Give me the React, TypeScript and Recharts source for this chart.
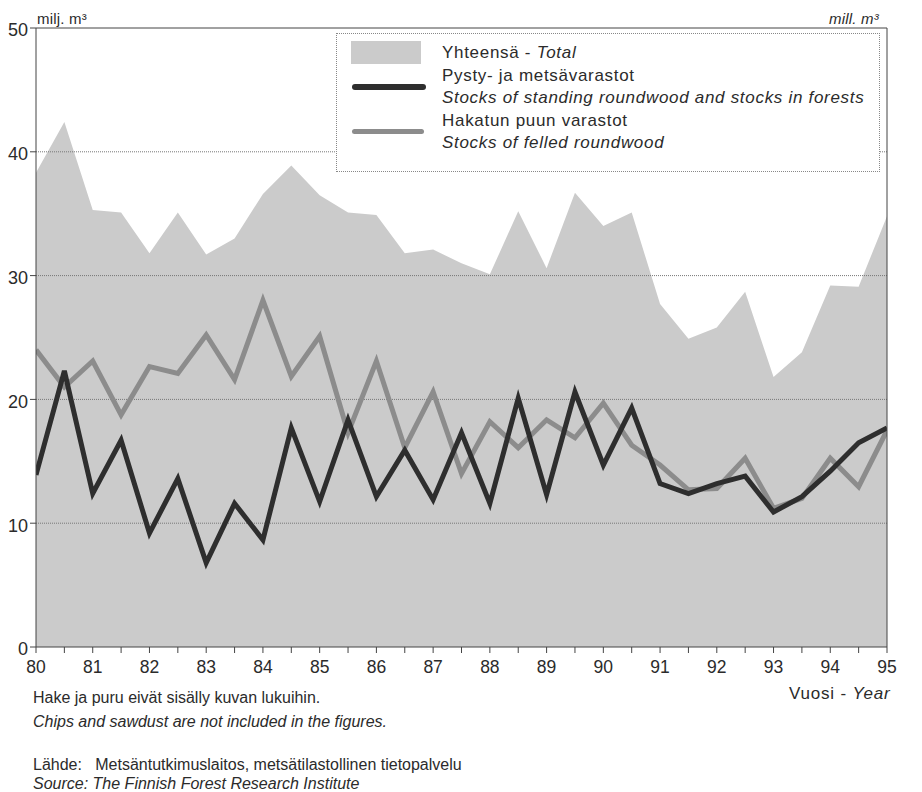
import React from 'react';
import { ComposedChart, Area, Line, XAxis, YAxis, ReferenceLine, Legend } from 'recharts';

const years = [80, 80.5, 81, 81.5, 82, 82.5, 83, 83.5, 84, 84.5, 85, 85.5, 86, 86.5, 87, 87.5, 88, 88.5, 89, 89.5, 90, 90.5, 91, 91.5, 92, 92.5, 93, 93.5, 94, 94.5, 95];
const total = [38.3, 42.4, 35.3, 35.1, 31.8, 35.1, 31.7, 33.0, 36.6, 38.9, 36.5, 35.1, 34.9, 31.8, 32.1, 31.0, 30.1, 35.2, 30.6, 36.7, 34.0, 35.1, 27.7, 24.9, 25.8, 28.7, 21.8, 23.8, 29.2, 29.1, 34.8];
const standing = [13.9, 22.3, 12.4, 16.7, 9.2, 13.6, 6.8, 11.6, 8.65, 17.7, 11.75, 18.35, 12.15, 15.9, 11.9, 17.3, 11.6, 20.1, 12.3, 20.6, 14.7, 19.3, 13.2, 12.4, 13.2, 13.8, 10.9, 12.15, 14.2, 16.5, 17.7];
const felled = [24.0, 21.0, 23.1, 18.75, 22.65, 22.1, 25.2, 21.6, 28.0, 21.85, 25.1, 17.3, 23.1, 16.1, 20.6, 14.0, 18.2, 16.1, 18.35, 16.9, 19.7, 16.3, 14.7, 12.7, 12.8, 15.25, 11.2, 12.0, 15.25, 12.95, 17.5];
const yTicks = [0, 10, 20, 30, 40, 50];
const gridValues = [10, 20, 30, 40];
const xTicks = years;

const data = years.map((y, i) => ({ year: y, total: total[i], standing: standing[i], felled: felled[i] }));

const FONT = '"Liberation Sans", Arial, Helvetica, sans-serif';
const TXT = '#2b2b2b';
const AREA_FILL = '#cbcbcb';
const DARK = '#2e2e2e';
const MID = '#8c8c8c';

const LegendBox = () => (
  <div style={{ position: 'relative', width: 544, height: 139, border: '1px dotted #888', background: '#fff', fontFamily: FONT, fontSize: 17, color: TXT, letterSpacing: 0.7, boxSizing: 'border-box' }}>
    <div style={{ position: 'absolute', left: 14, top: 7, width: 70, height: 23, background: AREA_FILL }} />
    <div style={{ position: 'absolute', left: 15, top: 50, width: 74, height: 6, background: DARK, borderRadius: 3 }} />
    <div style={{ position: 'absolute', left: 15, top: 95, width: 72, height: 5, background: MID, borderRadius: 3 }} />
    <div style={{ position: 'absolute', left: 105, top: 8, lineHeight: '22.5px', whiteSpace: 'nowrap' }}>
      <div>Yhteensä - <i>Total</i></div>
      <div>Pysty- ja metsävarastot</div>
      <div><i>Stocks of standing roundwood and stocks in forests</i></div>
      <div>Hakatun puun varastot</div>
      <div><i>Stocks of felled roundwood</i></div>
    </div>
  </div>
);

const abs = (left: number, top: number, extra: React.CSSProperties = {}): React.CSSProperties => ({
  position: 'absolute', left, top, fontFamily: FONT, color: TXT, whiteSpace: 'nowrap', lineHeight: 1, ...extra,
});

export default function App() {
  return (
    <div style={{ position: 'absolute', left: 0, top: 0, width: 922, height: 792, background: '#fff' }}>
      <ComposedChart width={922} height={792} data={data} margin={{ top: 28, right: 0, bottom: 115, left: 0 }}>
        <XAxis
          dataKey="year"
          type="number"
          domain={[80, 95]}
          ticks={xTicks}
          interval={0}
          tickFormatter={(v: number) => (Number.isInteger(v) ? String(v) : '')}
          height={30}
          tickSize={6}
          tickMargin={8}
          stroke="#444"
          tick={{ fill: TXT, fontSize: 17.5, fontFamily: FONT }}
          allowDataOverflow
        />
        <YAxis yAxisId="left" orientation="left" width={36} domain={[0, 50]} ticks={yTicks} tickSize={6} tickMargin={2} stroke="#444" tick={{ fill: TXT, fontSize: 18, fontFamily: FONT, dy: 2 }} />
        <YAxis yAxisId="right" orientation="right" width={35} domain={[0, 50]} ticks={yTicks} tickSize={6} tickMargin={2} stroke="#444" tick={{ fill: TXT, fontSize: 18, fontFamily: FONT, dy: 2 }} />
        <Area yAxisId="left" type="linear" dataKey="total" stroke="none" fill={AREA_FILL} fillOpacity={1} isAnimationActive={false} />
        {gridValues.map((g) => (
          <ReferenceLine key={g} yAxisId="left" y={g} stroke="#777" strokeWidth={1} strokeDasharray="1 1" />
        ))}
        <ReferenceLine yAxisId="left" y={50} stroke="#444" strokeWidth={1} />
        <Line yAxisId="left" type="linear" dataKey="felled" stroke={MID} strokeWidth={5} dot={false} isAnimationActive={false} strokeLinejoin="miter" />
        <Line yAxisId="left" type="linear" dataKey="standing" stroke={DARK} strokeWidth={5} dot={false} isAnimationActive={false} strokeLinejoin="miter" />
        <Legend layout="vertical" align="center" verticalAlign="middle" wrapperStyle={{ left: 336, top: 33, width: 544, height: 139 }} content={() => <LegendBox />} />
      </ComposedChart>
      <div style={abs(37, 11, { fontSize: 15, letterSpacing: 0.2 })}>milj. m³</div>
      <div style={abs(829, 11, { fontSize: 15, letterSpacing: 0.2, fontStyle: 'italic' })}>mill. m³</div>
      <div style={abs(789, 685, { fontSize: 17, letterSpacing: 0.8 })}>Vuosi - <i>Year</i></div>
      <div style={abs(33, 690, { fontSize: 16, letterSpacing: 0 })}>Hake ja puru eivät sisälly kuvan lukuihin.</div>
      <div style={abs(33, 714, { fontSize: 16, letterSpacing: 0, fontStyle: 'italic' })}>Chips and sawdust are not included in the figures.</div>
      <div style={abs(33, 757, { fontSize: 16, letterSpacing: 0 })}>Lähde:&nbsp;&nbsp;&nbsp;Metsäntutkimuslaitos, metsätilastollinen tietopalvelu</div>
      <div style={abs(33, 776, { fontSize: 16, letterSpacing: 0, fontStyle: 'italic' })}>Source: The Finnish Forest Research Institute</div>
    </div>
  );
}
